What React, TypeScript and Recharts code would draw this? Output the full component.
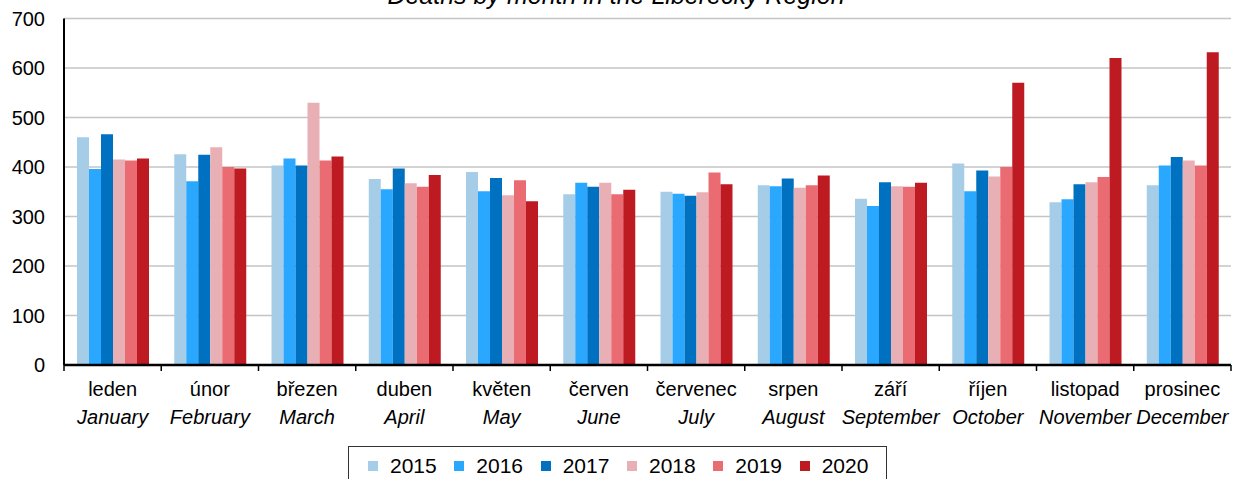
import { Bar, BarChart, CartesianGrid, Legend, XAxis, YAxis } from "recharts";

const monthsCz = ["leden", "únor", "březen", "duben", "květen", "červen", "červenec", "srpen", "září", "říjen", "listopad", "prosinec"];
const monthsEn = ["January", "February", "March", "April", "May", "June", "July", "August", "September", "October", "November", "December"];

const y2015 = [460, 426, 403, 376, 390, 345, 350, 363, 336, 407, 329, 363];
const y2016 = [396, 371, 417, 355, 351, 368, 346, 361, 321, 351, 335, 403];
const y2017 = [466, 425, 403, 397, 378, 360, 342, 377, 369, 393, 365, 420];
const y2018 = [415, 440, 530, 367, 343, 368, 349, 358, 361, 381, 369, 413];
const y2019 = [413, 400, 413, 360, 373, 345, 389, 363, 360, 400, 380, 403];
const y2020 = [417, 397, 421, 384, 331, 354, 365, 383, 368, 570, 620, 632];

const yTicks = [0, 100, 200, 300, 400, 500, 600, 700];

const series = [
  { key: "2015", color: "#a6cde8" },
  { key: "2016", color: "#2aa8ff" },
  { key: "2017", color: "#0070c0" },
  { key: "2018", color: "#e8b0b4" },
  { key: "2019", color: "#eb6b73" },
  { key: "2020", color: "#be1a22" },
];

const data = monthsCz.map((cz, i) => ({
  cz,
  en: monthsEn[i],
  "2015": y2015[i],
  "2016": y2016[i],
  "2017": y2017[i],
  "2018": y2018[i],
  "2019": y2019[i],
  "2020": y2020[i],
}));

const FONT = "'Liberation Sans', Arial, sans-serif";

function MonthTick(props: any) {
  const { x, y, payload, index } = props;
  const half = payload?.offset ?? 48.6;
  const d = data[index] ?? data.find((r) => r.cz === payload.value);
  return (
    <g>
      <line x1={x - half} x2={x - half} y1={y} y2={y + 6} stroke="#000" strokeWidth={1.5} />
      {index === data.length - 1 && (
        <line x1={x + half} x2={x + half} y1={y} y2={y + 6} stroke="#000" strokeWidth={1.5} />
      )}
      <text x={x} y={y + 31} textAnchor="middle" fontSize={20} fill="#000" fontFamily={FONT}>
        {d?.cz}
      </text>
      <text x={x} y={y + 59} textAnchor="middle" fontSize={20} fill="#000" fontStyle="italic" fontFamily={FONT}>
        {d?.en}
      </text>
    </g>
  );
}

function LegendBox() {
  return (
    <div
      style={{
        boxSizing: "border-box",
        height: 40,
        width: 539,
        border: "1.5px solid #333",
        display: "flex",
        alignItems: "center",
        paddingLeft: 19,
        fontFamily: FONT,
        fontSize: 21,
        color: "#000",
        background: "#fff",
      }}
    >
      {series.map((s) => (
        <div key={s.key} style={{ display: "flex", alignItems: "center", width: 88 }}>
          <span style={{ width: 10, height: 10, background: s.color, marginRight: 12, display: "inline-block" }} />
          <span>{s.key}</span>
        </div>
      ))}
    </div>
  );
}

export default function App() {
  return (
    <div style={{ position: "absolute", left: 0, top: 0, width: 1241, height: 479, overflow: "hidden", background: "#fff" }}>
      <svg width={1241} height={30} style={{ position: "absolute", left: 0, top: 0, zIndex: 2, pointerEvents: "none" }}>
        <text x={616} y={4} textAnchor="middle" fontSize={25} fontStyle="italic" fontFamily={FONT} fill="#000">
          Deaths by month in the Liberecký Region
        </text>
      </svg>
      <BarChart
        width={1241}
        height={479}
        data={data}
        margin={{ top: 18.5, right: 10, bottom: 0, left: 0 }}
        barCategoryGap={13}
        barGap={0}
      >
        <CartesianGrid vertical={false} stroke="#c4c4c4" strokeWidth={1.5} />
        <XAxis
          dataKey="cz"
          height={74}
          interval={0}
          tickLine={false}
          tickSize={0}
          tickMargin={0}
          axisLine={{ stroke: "#000", strokeWidth: 2.5 }}
          tick={<MonthTick />}
        />
        <XAxis xAxisId="top" dataKey="cz" orientation="top" height={0} tick={false} tickLine={false} axisLine={{ stroke: "#000", strokeWidth: 2 }} />
        <YAxis
          domain={[0, 700]}
          ticks={yTicks}
          width={64}
          interval={0}
          tickLine={false}
          tickSize={0}
          tickMargin={19}
          axisLine={{ stroke: "#000", strokeWidth: 2 }}
          tick={{ fill: "#000", fontSize: 20, fontFamily: FONT }}
        />
        <YAxis yAxisId="right" orientation="right" width={0} tick={false} tickLine={false} axisLine={{ stroke: "#000", strokeWidth: 2 }} />
        <Legend
          verticalAlign="bottom"
          content={<LegendBox />}
          wrapperStyle={{ left: 348, top: 446, width: 539, height: 40 }}
        />
        {series.map((s) => (
          <Bar key={s.key} dataKey={s.key} fill={s.color} isAnimationActive={false} />
        ))}
      </BarChart>
    </div>
  );
}
